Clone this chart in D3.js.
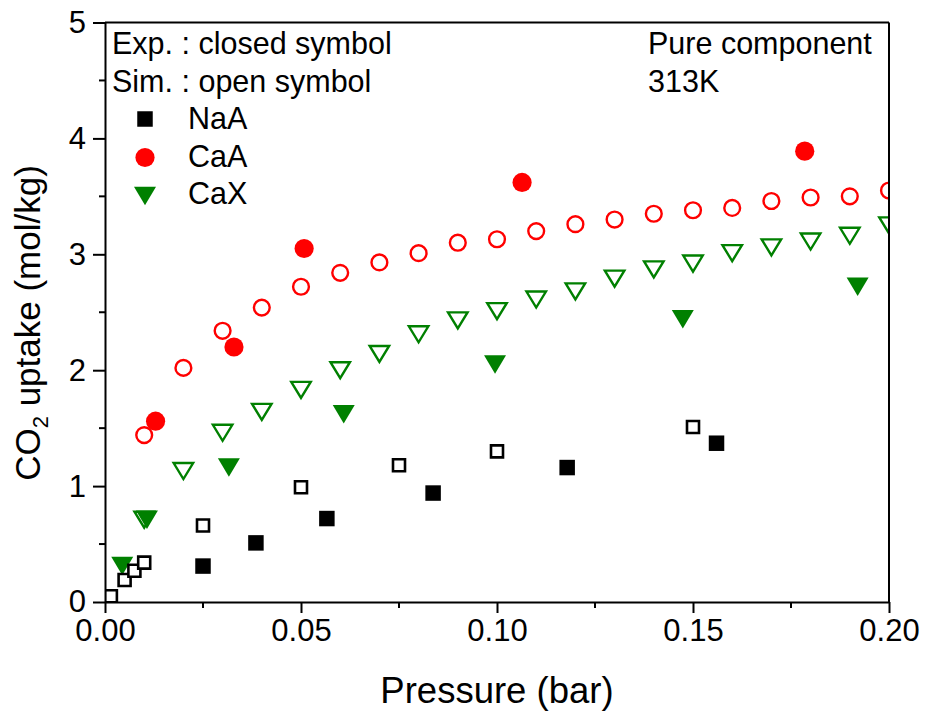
<!DOCTYPE html>
<html>
<head>
<meta charset="utf-8">
<script src="https://cdn.jsdelivr.net/npm/d3@7"></script>
<style>
  html, body { margin: 0; padding: 0; background: #fff; }
  svg { display: block; font-family: "Liberation Sans", Arial, sans-serif; }
</style>
</head>
<body>
<svg id="chart" width="928" height="717"></svg>
<script>
// ---- Data ----
const xTicks = [0.00, 0.05, 0.10, 0.15, 0.20];
const yTicks = [0, 1, 2, 3, 4, 5];

const naaExpP = [0.025, 0.0385, 0.0566, 0.0837, 0.1179, 0.156];
const naaExpV = [0.31, 0.51, 0.72, 0.94, 1.16, 1.37];
const naaSimP = [0.0015, 0.005, 0.0075, 0.01, 0.025, 0.05, 0.075, 0.10, 0.15];
const naaSimV = [0.05, 0.19, 0.27, 0.34, 0.66, 0.99, 1.18, 1.30, 1.51];

const caaExpP = [0.0129, 0.0329, 0.0508, 0.1064, 0.1785];
const caaExpV = [1.56, 2.20, 3.05, 3.62, 3.89];
const caaSimP = [0.01, 0.02, 0.03, 0.04, 0.05, 0.06, 0.07, 0.08, 0.09, 0.10,
                 0.11, 0.12, 0.13, 0.14, 0.15, 0.16, 0.17, 0.18, 0.19, 0.20];
const caaSimV = [1.44, 2.02, 2.34, 2.54, 2.72, 2.84, 2.93, 3.01, 3.10, 3.13,
                 3.20, 3.26, 3.30, 3.35, 3.38, 3.40, 3.46, 3.49, 3.50, 3.55];

const caxExpP = [0.0044, 0.0107, 0.0316, 0.0609, 0.0995, 0.1474, 0.192];
const caxExpV = [0.31, 0.71, 1.16, 1.62, 2.05, 2.44, 2.72];
const caxSimP = [0.01, 0.02, 0.03, 0.04, 0.05, 0.06, 0.07, 0.08, 0.09, 0.10,
                 0.11, 0.12, 0.13, 0.14, 0.15, 0.16, 0.17, 0.18, 0.19, 0.20];
const caxSimV = [0.71, 1.13, 1.46, 1.64, 1.83, 2.00, 2.14, 2.31, 2.43, 2.51,
                 2.61, 2.68, 2.79, 2.87, 2.92, 3.01, 3.06, 3.11, 3.16, 3.25];

const legendNames = ["NaA", "CaA", "CaX"];
const noteLines = ["Exp. : closed symbol", "Sim. : open symbol"];
const infoLines = ["Pure component", "313K"];

// ---- Layout ----
const svg = d3.select("#chart");
const L = 105, R = 889, T = 22.5, B = 602;
const x = d3.scaleLinear().domain([0, 0.20]).range([L, R]);
const y = d3.scaleLinear().domain([0, 5]).range([B, T]);

const RED = "#ff0000", GREEN = "#008000", BLACK = "#000000";

// custom down-triangle centered on its bounding box
function downTri(w, h) {
  return {
    draw(ctx) {
      ctx.moveTo(-w / 2, -h / 2);
      ctx.lineTo(w / 2, -h / 2);
      ctx.lineTo(0, h / 2);
      ctx.closePath();
    }
  };
}
function sq(s) {
  return { draw(ctx) { ctx.rect(-s / 2, -s / 2, s, s); } };
}
function circ(r) {
  return { draw(ctx) { ctx.moveTo(r, 0); ctx.arc(0, 0, r, 0, 2 * Math.PI); } };
}

const shapes = {
  sqFill: d3.symbol().type(sq(15.5))(),
  sqOpen: d3.symbol().type(sq(12))(),
  cFill: d3.symbol().type(circ(9.6))(),
  cOpen: d3.symbol().type(circ(7.9))(),
  tFill: d3.symbol().type(downTri(22, 18.5))(),
  tOpen: d3.symbol().type(downTri(19.5, 16))()
};

// clip
svg.append("defs").append("clipPath").attr("id", "plotClip")
  .append("rect").attr("x", L).attr("y", T).attr("width", R - L).attr("height", B - T);

const plot = svg.append("g").attr("clip-path", "url(#plotClip)");

function drawSeries(P, V, path, fill, stroke, sw) {
  plot.append("g").selectAll("path")
    .data(P.map((p, i) => [p, V[i]]))
    .join("path")
    .attr("d", path)
    .attr("transform", d => `translate(${x(d[0])},${y(d[1])})`)
    .attr("fill", fill)
    .attr("stroke", stroke)
    .attr("stroke-width", sw);
}

drawSeries(caxSimP, caxSimV, shapes.tOpen, "none", GREEN, 2.4);
drawSeries(caxExpP, caxExpV, shapes.tFill, GREEN, "none", 0);
drawSeries(caaSimP, caaSimV, shapes.cOpen, "none", RED, 2.4);
drawSeries(caaExpP, caaExpV, shapes.cFill, RED, "none", 0);
drawSeries(naaExpP, naaExpV, shapes.sqFill, BLACK, "none", 0);
drawSeries(naaSimP, naaSimV, shapes.sqOpen, "#fff", BLACK, 2.6);

// ---- Axes ----
const tickFont = 31;
const xAxis = d3.axisBottom(x).tickValues(xTicks).tickFormat(d3.format(".2f"))
  .tickSizeInner(11).tickSizeOuter(0).tickPadding(6);
const gx = svg.append("g").attr("transform", `translate(0,${B})`).call(xAxis);
gx.selectAll("text").attr("font-size", tickFont).attr("fill", "#000")
  .attr("font-family", '"Liberation Sans", Arial, sans-serif');

const xMinor = d3.range(0.025, 0.2, 0.05);
gx.selectAll(".minor").data(xMinor).join("line").attr("class", "minor")
  .attr("x1", d => x(d)).attr("x2", d => x(d)).attr("y1", 0).attr("y2", 6)
  .attr("stroke", "#000").attr("stroke-width", 2);

const yAxis = d3.axisLeft(y).tickValues(yTicks).tickFormat(d3.format("d"))
  .tickSizeInner(12).tickSizeOuter(0).tickPadding(7);
const gy = svg.append("g").attr("transform", `translate(${L},0)`).call(yAxis);
gy.selectAll("text").attr("font-size", tickFont).attr("fill", "#000")
  .attr("font-family", '"Liberation Sans", Arial, sans-serif');

const yMinor = d3.range(0.5, 5, 1);
gy.selectAll(".minor").data(yMinor).join("line").attr("class", "minor")
  .attr("y1", d => y(d)).attr("y2", d => y(d)).attr("x1", 0).attr("x2", -6)
  .attr("stroke", "#000").attr("stroke-width", 2);

[gx, gy].forEach(g => {
  g.selectAll(".domain").attr("stroke", "#000").attr("stroke-width", 2);
  g.selectAll(".tick line").attr("stroke", "#000").attr("stroke-width", 2);
});

// frame top & right
svg.append("line").attr("x1", L).attr("x2", R).attr("y1", T).attr("y2", T)
  .attr("stroke", "#000").attr("stroke-width", 2);
svg.append("line").attr("x1", R).attr("x2", R).attr("y1", T).attr("y2", B)
  .attr("stroke", "#000").attr("stroke-width", 2);

// ---- Axis titles ----
svg.append("text").attr("x", 497).attr("y", 703)
  .attr("text-anchor", "middle").attr("font-size", 36.5)
  .text("Pressure (bar)");

const yt = svg.append("text")
  .attr("transform", `translate(40,323) rotate(-90)`)
  .attr("text-anchor", "middle").attr("font-size", 35);
yt.append("tspan").text("CO");
yt.append("tspan").attr("font-size", 22).attr("dy", 8).text("2");
yt.append("tspan").attr("dy", -8).text(" uptake (mol/kg)");

// ---- Annotations & legend ----
const legFont = 30.5;
svg.selectAll(".note").data(noteLines).join("text").attr("class", "note")
  .attr("x", 112).attr("y", (d, i) => 53.5 + i * 38)
  .attr("font-size", legFont).text(d => d);

svg.selectAll(".info").data(infoLines).join("text").attr("class", "info")
  .attr("x", 648).attr("y", (d, i) => 53.5 + i * 38)
  .attr("font-size", legFont).text(d => d);

const legShapes = [
  { path: shapes.sqFill, fill: BLACK },
  { path: shapes.cFill, fill: RED },
  { path: shapes.tFill, fill: GREEN }
];
const leg = svg.append("g");
legendNames.forEach((name, i) => {
  const cy = 119 + i * 38.5;
  leg.append("path").attr("d", legShapes[i].path)
    .attr("transform", `translate(145,${cy})`)
    .attr("fill", legShapes[i].fill);
  leg.append("text").attr("x", 188).attr("y", 129 + i * 37.5)
    .attr("font-size", legFont).text(name);
});
</script>
</body>
</html>
